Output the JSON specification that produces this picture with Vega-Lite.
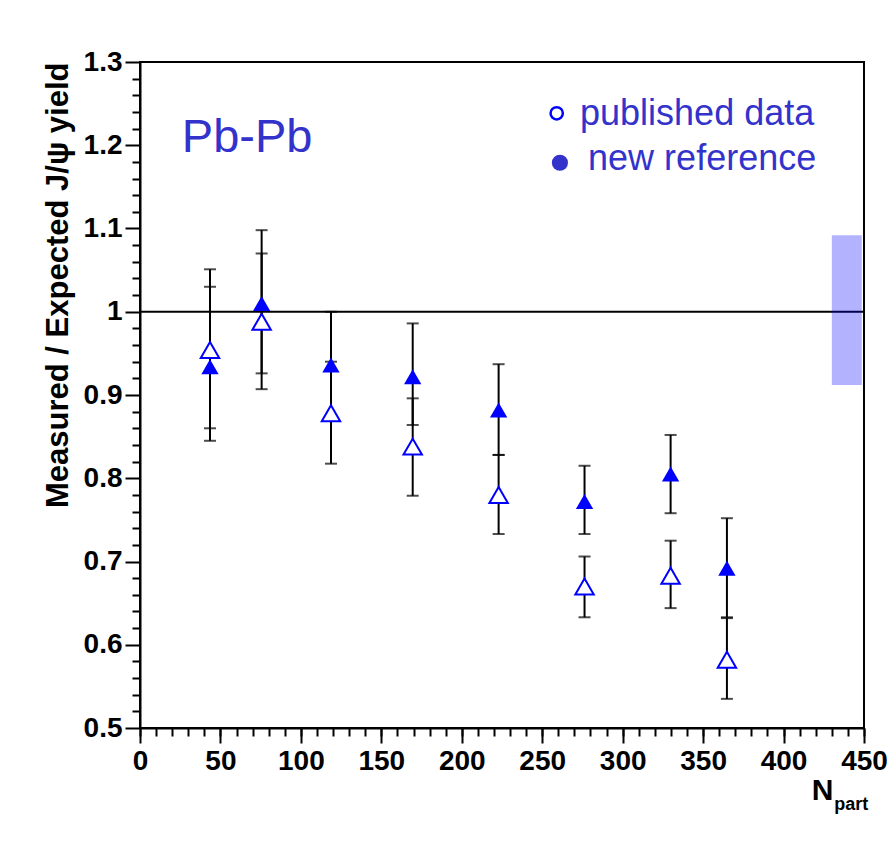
{
  "$schema": "https://vega.github.io/schema/vega-lite/v6.json",
  "width": 724,
  "height": 666,
  "autosize": {"type": "none"},
  "padding": {"left": 140, "top": 62, "right": 24, "bottom": 114},
  "background": "white",
  "config": {
    "view": {"stroke": "black", "strokeWidth": 2},
    "axis": {
      "domainColor": "black", "domainWidth": 2,
      "tickColor": "black", "tickWidth": 2,
      "labelFont": "Liberation Sans", "labelFontWeight": "bold", "labelFontSize": 28, "labelColor": "black",
      "labelFlush": false, "labelOverlap": false,
      "titleFont": "Liberation Sans", "titleFontWeight": "bold", "titleFontSize": 31, "titleColor": "black",
      "grid": false
    }
  },
  "datasets": {
    "pts": [
      {"npart": 43.5, "series": "published data", "ratio": 0.954, "lo": 0.860, "hi": 1.051},
      {"npart": 75.6, "series": "published data", "ratio": 0.988, "lo": 0.907, "hi": 1.070},
      {"npart": 118.7, "series": "published data", "ratio": 0.878, "lo": 0.8175, "hi": 0.940},
      {"npart": 169.5, "series": "published data", "ratio": 0.838, "lo": 0.779, "hi": 0.896},
      {"npart": 222.9, "series": "published data", "ratio": 0.780, "lo": 0.733, "hi": 0.828},
      {"npart": 276.3, "series": "published data", "ratio": 0.670, "lo": 0.633, "hi": 0.706},
      {"npart": 329.8, "series": "published data", "ratio": 0.683, "lo": 0.644, "hi": 0.725},
      {"npart": 364.8, "series": "published data", "ratio": 0.582, "lo": 0.535, "hi": 0.632},
      {"npart": 43.5, "series": "new reference", "ratio": 0.934, "lo": 0.845, "hi": 1.030},
      {"npart": 75.6, "series": "new reference", "ratio": 1.010, "lo": 0.926, "hi": 1.098},
      {"npart": 118.7, "series": "new reference", "ratio": 0.936, "lo": 0.871, "hi": 1.000},
      {"npart": 169.5, "series": "new reference", "ratio": 0.922, "lo": 0.864, "hi": 0.986},
      {"npart": 222.9, "series": "new reference", "ratio": 0.882, "lo": 0.828, "hi": 0.937},
      {"npart": 276.3, "series": "new reference", "ratio": 0.772, "lo": 0.733, "hi": 0.815},
      {"npart": 329.8, "series": "new reference", "ratio": 0.805, "lo": 0.758, "hi": 0.852},
      {"npart": 364.8, "series": "new reference", "ratio": 0.692, "lo": 0.633, "hi": 0.752}
    ],
    "sys": [
      {"n0": 430, "n1": 448.6, "lo": 0.912, "hi": 1.092}
    ],
    "one": [{}]
  },
  "resolve": {"axis": {"x": "independent", "y": "independent"}},
  "layer": [
    {
      "data": {"name": "pts"},
      "mark": {"type": "rule", "color": "black", "strokeWidth": 2},
      "encoding": {
        "x": {"field": "npart", "type": "quantitative",
              "scale": {"domain": [0, 450], "nice": false, "zero": false},
              "axis": {"orient": "bottom", "values": [0,10,20,30,40,50,60,70,80,90,100,110,120,130,140,150,160,170,180,190,200,210,220,230,240,250,260,270,280,290,300,310,320,330,340,350,360,370,380,390,400,410,420,430,440,450],
                       "labels": false, "tickSize": 8, "domain": false, "title": null}},
        "y": {"field": "lo", "type": "quantitative",
              "scale": {"domain": [0.5, 1.3], "nice": false, "zero": false},
              "axis": {"orient": "left", "values": [0.52,0.54,0.56,0.58,0.62,0.64,0.66,0.68,0.72,0.74,0.76,0.78,0.82,0.84,0.86,0.88,0.92,0.94,0.96,0.98,1.02,1.04,1.06,1.08,1.12,1.14,1.16,1.18,1.22,1.24,1.26,1.28],
                       "labels": false, "tickSize": 8, "domain": false, "title": null}},
        "y2": {"field": "hi"}
      }
    },
    {
      "data": {"name": "pts"},
      "mark": {"type": "tick", "orient": "horizontal", "color": "black", "size": 12, "thickness": 2},
      "encoding": {
        "x": {"field": "npart", "type": "quantitative", "axis": null},
        "y": {"field": "lo", "type": "quantitative", "axis": null}
      }
    },
    {
      "data": {"name": "pts"},
      "mark": {"type": "tick", "orient": "horizontal", "color": "black", "size": 12, "thickness": 2},
      "encoding": {
        "x": {"field": "npart", "type": "quantitative", "axis": null},
        "y": {"field": "hi", "type": "quantitative", "axis": null}
      }
    },
    {
      "data": {"name": "one"},
      "mark": {"type": "rule", "color": "black", "strokeWidth": 2},
      "encoding": {"y": {"datum": 1, "type": "quantitative", "axis": null}}
    },
    {
      "data": {"name": "sys"},
      "mark": {"type": "rect", "fill": "#0000ff", "fillOpacity": 0.3},
      "encoding": {
        "x": {"field": "n0", "type": "quantitative", "axis": null},
        "x2": {"field": "n1"},
        "y": {"field": "lo", "type": "quantitative", "axis": null},
        "y2": {"field": "hi"}
      }
    },
    {
      "data": {"name": "pts"},
      "transform": [{"filter": "datum.series === 'published data'"}],
      "mark": {"type": "point", "shape": "triangle-up", "size": 340, "filled": true, "fill": "white", "stroke": "#0000ff", "strokeWidth": 2, "opacity": 1},
      "encoding": {
        "x": {"field": "npart", "type": "quantitative",
              "axis": {"orient": "bottom", "values": [0,50,100,150,200,250,300,350,400,450], "tickSize": 15, "labelPadding": 4, "title": null}},
        "y": {"field": "ratio", "type": "quantitative",
              "axis": {"orient": "left", "values": [0.5,0.6,0.7,0.8,0.9,1,1.1,1.2,1.3], "format": ".1~f", "tickSize": 15, "labelPadding": 3,
                       "title": "Measured / Expected J/ψ yield", "titleAnchor": "end", "titlePadding": 9}}
      }
    },
    {
      "data": {"name": "pts"},
      "transform": [{"filter": "datum.series === 'new reference'"}],
      "mark": {"type": "point", "shape": "triangle-up", "size": 300, "filled": true, "fill": "#0000ff", "opacity": 1},
      "encoding": {
        "x": {"field": "npart", "type": "quantitative", "axis": null},
        "y": {"field": "ratio", "type": "quantitative", "axis": null}
      }
    },
    {
      "data": {"name": "one"},
      "mark": {"type": "text", "text": "Pb-Pb", "font": "Liberation Sans", "fontSize": 47, "color": "#3333cc", "align": "left", "baseline": "alphabetic"},
      "encoding": {"x": {"datum": 26, "type": "quantitative", "axis": null}, "y": {"datum": 1.192, "type": "quantitative", "axis": null}}
    },
    {
      "data": {"name": "one"},
      "mark": {"type": "point", "shape": "circle", "size": 150, "filled": false, "stroke": "#0000ff", "strokeWidth": 2.5, "opacity": 1},
      "encoding": {"x": {"datum": 259, "type": "quantitative", "axis": null}, "y": {"datum": 1.2384, "type": "quantitative", "axis": null}}
    },
    {
      "data": {"name": "one"},
      "mark": {"type": "point", "shape": "circle", "size": 260, "filled": true, "fill": "#3333cc", "opacity": 1},
      "encoding": {"x": {"datum": 261, "type": "quantitative", "axis": null}, "y": {"datum": 1.179, "type": "quantitative", "axis": null}}
    },
    {
      "data": {"name": "one"},
      "mark": {"type": "text", "text": "published data", "font": "Liberation Sans", "fontSize": 36, "color": "#3333cc", "align": "left", "baseline": "alphabetic"},
      "encoding": {"x": {"datum": 273.5, "type": "quantitative", "axis": null}, "y": {"datum": 1.2243, "type": "quantitative", "axis": null}}
    },
    {
      "data": {"name": "one"},
      "mark": {"type": "text", "text": "new reference", "font": "Liberation Sans", "fontSize": 36, "color": "#3333cc", "align": "left", "baseline": "alphabetic"},
      "encoding": {"x": {"datum": 278.5, "type": "quantitative", "axis": null}, "y": {"datum": 1.1703, "type": "quantitative", "axis": null}}
    },
    {
      "data": {"name": "one"},
      "mark": {"type": "text", "text": "N", "font": "Liberation Sans", "fontWeight": "bold", "fontSize": 30, "color": "black", "align": "right", "baseline": "alphabetic"},
      "encoding": {"x": {"datum": 431, "type": "quantitative", "axis": null}, "y": {"datum": 0.4136, "type": "quantitative", "axis": null}}
    },
    {
      "data": {"name": "one"},
      "mark": {"type": "text", "text": "part", "font": "Liberation Sans", "fontWeight": "bold", "fontSize": 18, "color": "black", "align": "left", "baseline": "alphabetic"},
      "encoding": {"x": {"datum": 431.5, "type": "quantitative", "axis": null}, "y": {"datum": 0.4016, "type": "quantitative", "axis": null}}
    }
  ]
}
